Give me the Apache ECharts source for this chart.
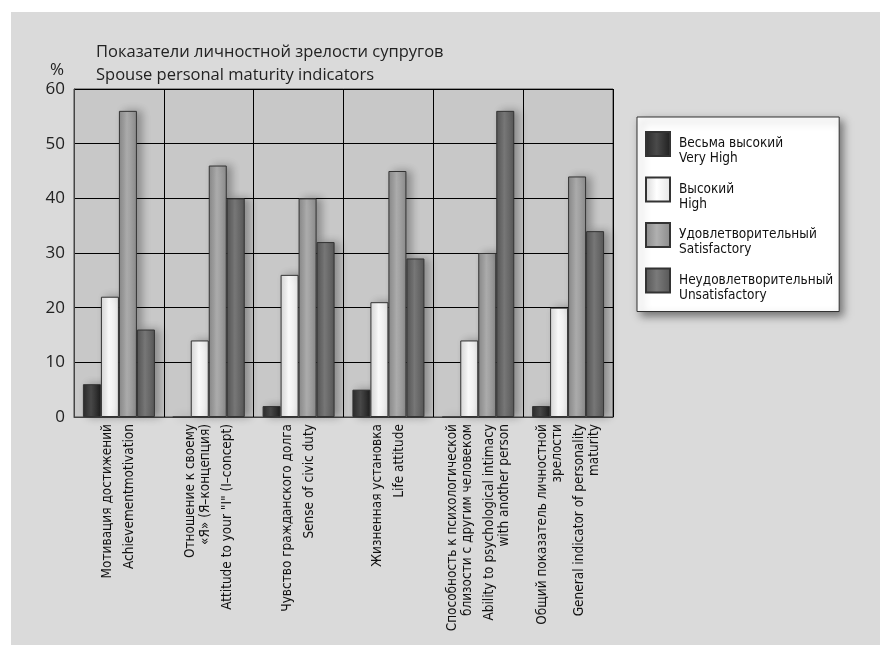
<!DOCTYPE html>
<html>
<head>
<meta charset="utf-8">
<script src="https://cdn.jsdelivr.net/npm/echarts@6.0.0/dist/echarts.min.js"></script>
<style>
  html, body { margin: 0; padding: 0; background: #fff; }
  #chart { width: 880px; height: 645px; }
</style>
</head>
<body>
<div id="chart"></div>
<script>
var labelsRu = [
    'Мотивация достижений',
    'Отношение к своему\n«Я» (Я–концепция)',
    'Чувство гражданского долга',
    'Жизненная установка',
    'Способность к психологической\nблизости с другим человеком',
    'Общий показатель личностной\nзрелости'
];
var labelsEn = [
    'Achievementmotivation',
    'Attitude to your "I" (I–concept)',
    'Sense of civic duty',
    'Life attitude',
    'Ability to psychological intimacy\nwith another person',
    'General indicator of personality\nmaturity'
];
var seriesNames = [
    'Весьма высокий\nVery High',
    'Высокий\nHigh',
    'Удовлетворительный\nSatisfactory',
    'Неудовлетворительный\nUnsatisfactory'
];
var veryHigh = [6, 0, 2, 5, 0, 2];
var high = [22, 14, 26, 21, 14, 20];
var satisfactory = [56, 46, 40, 45, 30, 44];
var unsatisfactory = [16, 40, 32, 29, 56, 34];
var yTicks = [0, 10, 20, 30, 40, 50, 60];

var condensed = '"Liberation Sans Narrow", "DejaVu Sans Condensed", "Roboto Condensed", sans-serif';

function grad(a, b, c) {
    return new echarts.graphic.LinearGradient(0, 0, 1, 0, [
        { offset: 0, color: a },
        { offset: 0.45, color: b },
        { offset: 1, color: c }
    ]);
}

var fills = [
    grad('#2a2a2a', '#4a4a4a', '#1e1e1e'),
    grad('#d8d8d8', '#ffffff', '#e4e4e4'),
    grad('#888888', '#b0b0b0', '#8a8a8a'),
    grad('#555555', '#7a7a7a', '#565656')
];

var values = [veryHigh, high, satisfactory, unsatisfactory];

var categories = labelsRu.map(function (r, i) { return i; });

var chart = echarts.init(document.getElementById('chart'));

var option = {
    animation: false,
    backgroundColor: '#ffffff',
    graphic: [
        { type: 'rect', z: -10, shape: { x: 11, y: 12, width: 869, height: 633 }, style: { fill: '#dadada' } },
        { type: 'text', left: 50, top: 62, style: { text: '%', font: '17px "Open Sans", sans-serif', fill: '#222' } }
    ],
    title: {
        text: 'Показатели личностной зрелости супругов\nSpouse personal maturity indicators',
        left: 91,
        top: 36,
        textStyle: {
            fontFamily: '"Open Sans", sans-serif',
            fontWeight: 'normal',
            fontSize: 16.5,
            lineHeight: 23,
            color: '#222'
        }
    },
    legend: {
        orient: 'vertical',
        left: 637,
        top: 117,
        padding: [5, 6, 9, 8],
        itemGap: 1.5,
        itemWidth: 24,
        itemHeight: 24,
        icon: 'rect',
        backgroundColor: '#ffffff',
        borderColor: '#333',
        borderWidth: 1,
        shadowBlur: 8,
        shadowColor: 'rgba(0,0,0,0.45)',
        shadowOffsetX: 4,
        shadowOffsetY: 4,
        formatter: function (name) {
            return '{s|}\n' + name;
        },
        textStyle: {
            fontFamily: condensed,
            fontSize: 13.5,
            lineHeight: 15,
            color: '#111',
            padding: [0, 0, 0, 4],
            rich: {
                s: { fontSize: 2, lineHeight: 14 }
            }
        },
        data: seriesNames
    },
    grid: {
        left: 74,
        right: 267,
        top: 89,
        bottom: 228,
        show: true,
        backgroundColor: '#c8c8c8',
        borderColor: '#444',
        borderWidth: 1
    },
    xAxis: {
        type: 'category',
        data: categories,
        axisTick: { show: false },
        axisLine: { lineStyle: { color: '#444', width: 1 } },
        splitLine: { show: true, interval: 0, lineStyle: { color: '#000', width: 1 } },
        axisLabel: {
            interval: 0,
            rotate: 90,
            margin: 7,
            fontFamily: condensed,
            fontSize: 13.5,
            lineHeight: 15,
            color: '#111',
            formatter: function (v, i) {
                return labelsRu[i] + '\n{g| }\n' + labelsEn[i];
            },
            rich: {
                g: { fontSize: 2, lineHeight: 7 }
            }
        }
    },
    yAxis: {
        type: 'value',
        min: yTicks[0],
        max: yTicks[yTicks.length - 1],
        interval: 10,
        axisLine: { show: true, lineStyle: { color: '#444' } },
        axisTick: { show: false },
        splitLine: { lineStyle: { color: '#000', width: 1 } },
        axisLabel: {
            margin: 9,
            fontFamily: '"Open Sans", sans-serif',
            fontSize: 17,
            color: '#222'
        }
    },
    series: seriesNames.map(function (name, k) {
        return {
            name: name,
            type: 'bar',
            data: values[k],
            barWidth: 18,
            barGap: '0%',
            barCategoryGap: '20%',
            itemStyle: {
                color: fills[k],
                borderColor: '#333',
                borderWidth: 1,
                shadowBlur: 8,
                shadowColor: 'rgba(0,0,0,0.3)',
                shadowOffsetX: 5
            }
        };
    })
};

chart.setOption(option);
</script>
</body>
</html>
